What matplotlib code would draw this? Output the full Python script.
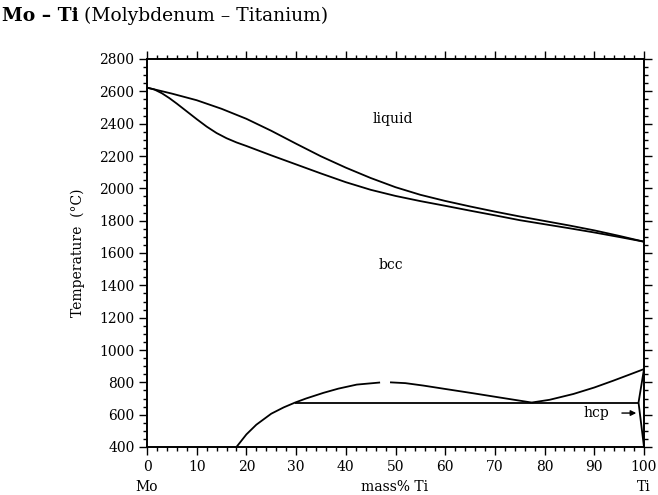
import matplotlib
matplotlib.use("Agg")
import matplotlib.pyplot as plt
from matplotlib.ticker import MultipleLocator

plt.rcParams.update({'font.family': 'DejaVu Serif', 'font.size': 10})

# liquidus / solidus (mass% Ti, deg C)
liq_x = [0, 5, 10, 15, 20, 25, 30, 35, 40, 45, 50, 55, 60, 65, 70, 75, 80, 85, 90, 95, 100]
liq_t = [2623, 2586, 2545, 2492, 2430, 2356, 2276, 2198, 2128, 2064, 2007, 1960, 1922, 1888, 1856, 1826, 1798, 1770, 1740, 1706, 1670]
sol_x = [0, 1.5, 3, 4.5, 6, 8, 10, 12, 14, 16, 18, 20, 25, 30, 35, 40, 45, 50, 55, 60, 65, 70, 75, 80, 85, 90, 95, 100]
sol_t = [2623, 2611, 2588, 2558, 2524, 2476, 2428, 2382, 2342, 2310, 2284, 2262, 2204, 2148, 2092, 2038, 1991, 1953, 1921, 1892, 1862, 1833, 1803, 1778, 1753, 1727, 1699, 1670]

# bcc miscibility gap (two pieces)
gap1_x = [18, 20, 22, 25, 27.5, 29.8, 32, 35.5, 38.5, 42.2, 46.9]
gap1_t = [400, 478, 538, 606, 645, 675, 700, 735, 761, 786, 799]
gap2_x = [48.9, 52, 55.6, 60, 65.7, 71, 77.4]
gap2_t = [800, 795, 780, 759, 732, 706, 675]

# beta transus
tr_x = [77.4, 81, 85.8, 90, 93.8, 97, 100]
tr_t = [675, 692, 728, 768, 810, 847, 882]

# monotectoid / eutectoid line and hcp boundaries
mono_x = [29.8, 98.9]
mono_t = [675, 675]
hcp1_x = [98.9, 100]
hcp1_t = [675, 882]
hcp2_x = [98.9, 100]
hcp2_t = [675, 400]

fig = plt.figure(figsize=(6.58, 4.95), dpi=100)
ax = fig.add_axes([147/658, 1-447/495, 497/658, 388/495])

lw = 1.3
for xs, ts in [(liq_x, liq_t), (sol_x, sol_t), (gap1_x, gap1_t), (gap2_x, gap2_t),
               (tr_x, tr_t), (mono_x, mono_t), (hcp1_x, hcp1_t), (hcp2_x, hcp2_t)]:
    ax.plot(xs, ts, color='black', lw=lw, solid_capstyle='butt', solid_joinstyle='round')

ax.set_xlim(0, 100)
ax.set_ylim(400, 2800)
ax.xaxis.set_major_locator(MultipleLocator(10))
ax.xaxis.set_minor_locator(MultipleLocator(2))
ax.yaxis.set_major_locator(MultipleLocator(200))
ax.yaxis.set_minor_locator(MultipleLocator(50))
ax.tick_params(which='both', direction='out', top=True, right=True, width=1.0, labelsize=10)
ax.tick_params(which='major', length=5.5)
ax.tick_params(which='minor', length=3)
ax.tick_params(axis='x', pad=4)
for s in ax.spines.values():
    s.set_linewidth(1.4)

ax.text(49.5, 2430, 'liquid', ha='center', va='center', fontsize=10)
ax.text(49.1, 1526, 'bcc', ha='center', va='center', fontsize=10)
ax.annotate('', xy=(99.0, 610), xytext=(95.0, 610),
            arrowprops=dict(arrowstyle='-|>', color='black', lw=1.0, mutation_scale=8))
ax.text(90.5, 610, 'hcp', ha='center', va='center', fontsize=10)

ax.set_ylabel('Temperature  (\u00b0C)', fontsize=10, labelpad=10)
fig.text(395/658, 1-487/495, 'mass% Ti', ha='center', va='center', fontsize=10)
fig.text(147/658, 1-487/495, 'Mo', ha='center', va='center', fontsize=10)
fig.text(644/658, 1-487/495, 'Ti', ha='center', va='center', fontsize=10)

# title: bold part then normal part
t1 = fig.text(0.003, 1-16/495, 'Mo \u2013 Ti', ha='left', va='center', fontsize=13.5, fontweight='bold')
fig.canvas.draw()
bb = t1.get_window_extent()
fig.text((bb.x1 + 5)/fig.bbox.width, 1-16/495, '(Molybdenum \u2013 Titanium)',
         ha='left', va='center', fontsize=13.5)

fig.savefig('out.png', dpi=100)
